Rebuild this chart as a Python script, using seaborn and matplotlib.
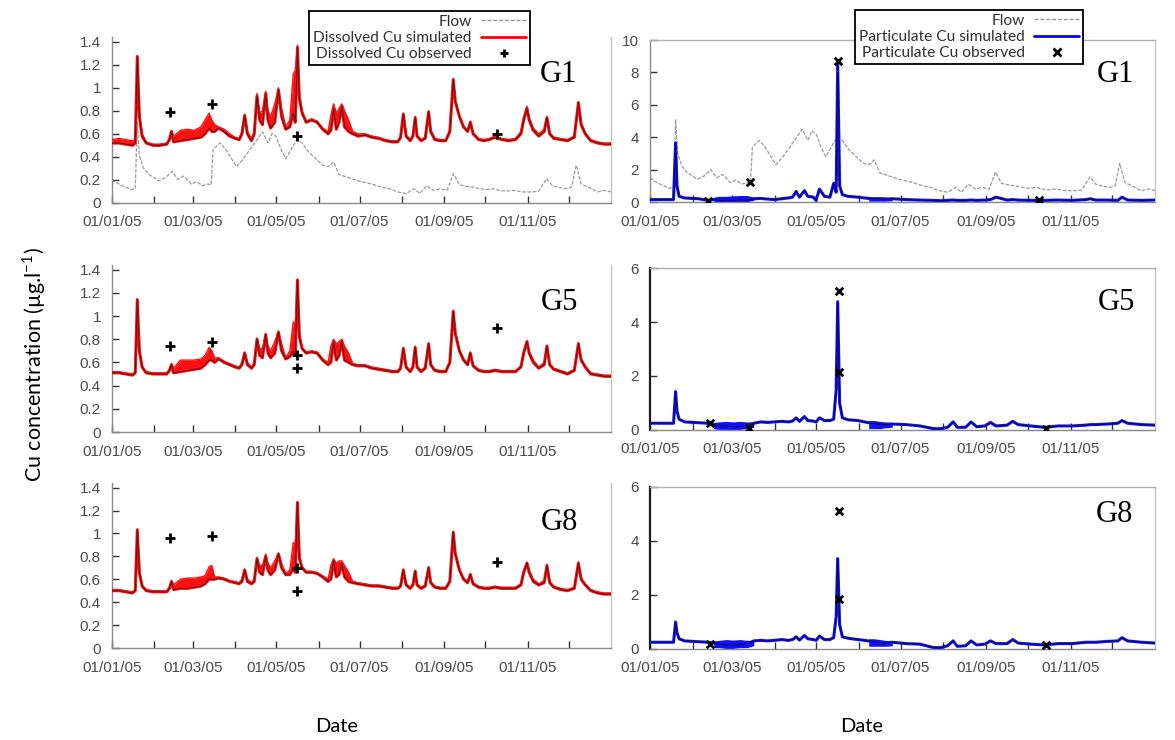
import numpy as np
import pandas as pd
import matplotlib
matplotlib.use("Agg")
import matplotlib.pyplot as plt
import matplotlib.dates as mdates
from matplotlib.ticker import FuncFormatter
from matplotlib.lines import Line2D
import seaborn as sns

sns.set_theme(style="white")
plt.rcParams["font.family"] = ["Liberation Sans", "DejaVu Sans"]

# ---------------- data (day of year 2005 -> value) ----------------
diss_days = [0, 5, 10, 15, 17, 18.5, 20, 22, 25, 30,
             35, 40, 42, 43.5, 45, 50, 55, 60, 65, 68,
             71, 73, 75, 78, 82, 86, 90, 93, 95, 97,
             99, 102, 104, 106, 108, 110, 112.4, 114, 116, 119,
             121.7, 124, 127, 130, 132.5, 134, 135.6, 137, 139, 142,
             146, 150, 154, 158, 160, 162, 164, 166, 168, 170,
             173, 176, 180, 185, 190, 195, 200, 205, 209, 211,
             213, 215, 218, 220, 221.7, 223, 226, 229, 231.5, 233,
             236, 240, 244, 247, 249.5, 251, 254, 257, 260, 262,
             264, 268, 272, 276, 280, 285, 290, 295, 299, 301,
             303.4, 305, 308, 312, 316, 318, 320, 323, 328, 333,
             338, 341, 343, 346, 350, 355, 360, 365]

g1_diss_sim = [0.52, 0.52, 0.51, 0.50, 0.52, 1.27, 0.75, 0.58, 0.52, 0.50,
               0.50, 0.51, 0.55, 0.62, 0.53, 0.54, 0.55, 0.56, 0.57, 0.60,
               0.65, 0.62, 0.62, 0.65, 0.62, 0.58, 0.56, 0.55, 0.60, 0.76,
               0.60, 0.54, 0.60, 0.93, 0.72, 0.68, 0.95, 0.72, 0.65, 0.70,
               0.98, 0.75, 0.64, 0.66, 0.78, 0.70, 1.35, 0.90, 0.78, 0.70,
               0.72, 0.70, 0.64, 0.60, 0.63, 0.82, 0.64, 0.70, 0.84, 0.66,
               0.62, 0.60, 0.58, 0.59, 0.57, 0.56, 0.54, 0.53, 0.53, 0.57,
               0.77, 0.58, 0.54, 0.58, 0.74, 0.58, 0.54, 0.56, 0.79, 0.62,
               0.55, 0.54, 0.54, 0.62, 1.07, 0.88, 0.75, 0.66, 0.62, 0.70,
               0.60, 0.55, 0.54, 0.55, 0.57, 0.55, 0.54, 0.55, 0.60, 0.72,
               0.82, 0.72, 0.63, 0.58, 0.62, 0.74, 0.60, 0.56, 0.55, 0.54,
               0.57, 0.87, 0.68, 0.60, 0.54, 0.52, 0.51, 0.51]
g1_diss_env = [0.55, 0.56, 0.55, 0.54, 0.55, 1.28, 0.78, 0.60, 0.53, 0.51,
               0.51, 0.52, 0.56, 0.63, 0.58, 0.63, 0.64, 0.63, 0.66, 0.72,
               0.78, 0.72, 0.68, 0.66, 0.64, 0.60, 0.57, 0.56, 0.62, 0.77,
               0.62, 0.56, 0.62, 0.95, 0.78, 0.80, 0.97, 0.80, 0.75, 0.86,
               1.00, 0.82, 0.66, 0.72, 1.12, 1.15, 1.37, 0.95, 0.80, 0.71,
               0.73, 0.71, 0.65, 0.62, 0.76, 0.86, 0.78, 0.82, 0.86, 0.80,
               0.72, 0.62, 0.60, 0.60, 0.58, 0.57, 0.55, 0.54, 0.54, 0.58,
               0.78, 0.59, 0.55, 0.59, 0.75, 0.59, 0.55, 0.57, 0.80, 0.63,
               0.56, 0.55, 0.55, 0.63, 1.08, 0.90, 0.76, 0.67, 0.63, 0.71,
               0.61, 0.56, 0.55, 0.56, 0.58, 0.56, 0.55, 0.56, 0.62, 0.75,
               0.84, 0.74, 0.65, 0.60, 0.64, 0.75, 0.61, 0.57, 0.56, 0.55,
               0.58, 0.88, 0.70, 0.61, 0.55, 0.53, 0.52, 0.52]

g5_diss_sim = [0.51, 0.51, 0.50, 0.49, 0.51, 1.14, 0.70, 0.56, 0.51, 0.50,
               0.50, 0.50, 0.53, 0.58, 0.51, 0.52, 0.53, 0.54, 0.55, 0.58,
               0.62, 0.62, 0.60, 0.63, 0.60, 0.58, 0.56, 0.55, 0.58, 0.68,
               0.58, 0.55, 0.58, 0.80, 0.66, 0.64, 0.84, 0.68, 0.64, 0.68,
               0.86, 0.70, 0.63, 0.65, 0.70, 0.66, 1.31, 0.82, 0.72, 0.68,
               0.69, 0.68, 0.62, 0.58, 0.60, 0.78, 0.62, 0.66, 0.78, 0.62,
               0.60, 0.58, 0.57, 0.57, 0.55, 0.54, 0.53, 0.52, 0.52, 0.55,
               0.72, 0.56, 0.52, 0.56, 0.73, 0.56, 0.52, 0.55, 0.76, 0.58,
               0.53, 0.52, 0.52, 0.60, 1.04, 0.85, 0.70, 0.62, 0.58, 0.68,
               0.57, 0.53, 0.52, 0.52, 0.53, 0.52, 0.52, 0.52, 0.56, 0.68,
               0.78, 0.68, 0.60, 0.55, 0.58, 0.74, 0.58, 0.54, 0.52, 0.50,
               0.53, 0.76, 0.62, 0.56, 0.50, 0.49, 0.48, 0.48]
g5_diss_env = [0.52, 0.52, 0.51, 0.50, 0.52, 1.15, 0.72, 0.57, 0.52, 0.51,
               0.51, 0.51, 0.54, 0.59, 0.55, 0.62, 0.62, 0.62, 0.63, 0.66,
               0.73, 0.70, 0.64, 0.64, 0.61, 0.59, 0.57, 0.56, 0.60, 0.69,
               0.60, 0.56, 0.60, 0.81, 0.72, 0.72, 0.85, 0.74, 0.70, 0.78,
               0.87, 0.76, 0.64, 0.70, 0.95, 0.92, 1.32, 0.86, 0.73, 0.69,
               0.70, 0.69, 0.63, 0.60, 0.74, 0.80, 0.76, 0.78, 0.80, 0.74,
               0.68, 0.59, 0.58, 0.58, 0.56, 0.55, 0.54, 0.53, 0.53, 0.56,
               0.73, 0.57, 0.53, 0.57, 0.74, 0.57, 0.53, 0.56, 0.77, 0.59,
               0.54, 0.53, 0.53, 0.61, 1.05, 0.86, 0.71, 0.63, 0.59, 0.69,
               0.58, 0.54, 0.53, 0.53, 0.54, 0.53, 0.53, 0.53, 0.57, 0.70,
               0.79, 0.70, 0.62, 0.56, 0.60, 0.75, 0.59, 0.55, 0.53, 0.51,
               0.54, 0.77, 0.63, 0.57, 0.51, 0.50, 0.49, 0.49]

g8_diss_sim = [0.50, 0.50, 0.49, 0.48, 0.50, 1.03, 0.66, 0.54, 0.50, 0.49,
               0.49, 0.49, 0.52, 0.58, 0.51, 0.52, 0.52, 0.53, 0.54, 0.56,
               0.60, 0.60, 0.60, 0.61, 0.60, 0.58, 0.57, 0.56, 0.58, 0.68,
               0.58, 0.56, 0.58, 0.78, 0.66, 0.64, 0.80, 0.68, 0.64, 0.68,
               0.82, 0.70, 0.64, 0.64, 0.70, 0.66, 1.27, 0.78, 0.70, 0.66,
               0.66, 0.65, 0.62, 0.58, 0.60, 0.76, 0.62, 0.64, 0.74, 0.62,
               0.58, 0.57, 0.56, 0.55, 0.54, 0.54, 0.53, 0.52, 0.52, 0.54,
               0.68, 0.55, 0.52, 0.55, 0.67, 0.55, 0.52, 0.54, 0.70, 0.57,
               0.53, 0.52, 0.52, 0.58, 1.01, 0.82, 0.68, 0.60, 0.57, 0.64,
               0.56, 0.53, 0.52, 0.52, 0.53, 0.52, 0.52, 0.52, 0.55, 0.66,
               0.74, 0.66, 0.58, 0.55, 0.57, 0.72, 0.57, 0.53, 0.51, 0.50,
               0.52, 0.74, 0.60, 0.55, 0.50, 0.48, 0.47, 0.47]
g8_diss_env = [0.51, 0.51, 0.50, 0.49, 0.51, 1.04, 0.68, 0.55, 0.51, 0.50,
               0.50, 0.50, 0.53, 0.59, 0.55, 0.60, 0.61, 0.61, 0.62, 0.63,
               0.71, 0.72, 0.62, 0.62, 0.61, 0.59, 0.58, 0.57, 0.60, 0.69,
               0.60, 0.57, 0.60, 0.79, 0.72, 0.72, 0.82, 0.74, 0.70, 0.76,
               0.83, 0.74, 0.65, 0.68, 0.92, 0.90, 1.28, 0.82, 0.71, 0.67,
               0.67, 0.66, 0.63, 0.60, 0.72, 0.78, 0.74, 0.76, 0.76, 0.72,
               0.66, 0.58, 0.57, 0.56, 0.55, 0.55, 0.54, 0.53, 0.53, 0.55,
               0.69, 0.56, 0.53, 0.56, 0.68, 0.56, 0.53, 0.55, 0.71, 0.58,
               0.54, 0.53, 0.53, 0.59, 1.02, 0.83, 0.69, 0.61, 0.58, 0.65,
               0.57, 0.54, 0.53, 0.53, 0.54, 0.53, 0.53, 0.53, 0.56, 0.68,
               0.75, 0.68, 0.60, 0.56, 0.59, 0.73, 0.58, 0.54, 0.52, 0.51,
               0.53, 0.75, 0.61, 0.56, 0.51, 0.49, 0.48, 0.48]

g1_diss_obs_days = [42.4, 73, 135.5, 281.6]
g1_diss_obs = [0.79, 0.86, 0.58, 0.60]
g5_diss_obs_days = [42.6, 72.8, 135.0, 135.5, 281.3]
g5_diss_obs = [0.74, 0.78, 0.665, 0.55, 0.90]
g8_diss_obs_days = [42.6, 72.8, 135.0, 135.5, 281.3]
g8_diss_obs = [0.96, 0.98, 0.70, 0.50, 0.75]

part_days = [0, 10, 17, 18.5, 19.5, 21, 25, 35, 42, 46,
             50, 55, 60, 65, 70, 75, 80, 85, 90, 95,
             100, 103, 105.6, 108, 111.6, 114, 118, 120, 122.4, 126,
             130, 132.7, 134.5, 135.6, 137, 139, 143, 150, 155, 160,
             165, 170, 175, 185, 195, 205, 210, 215, 219, 222,
             228, 232, 236, 242, 246, 250, 258, 262, 266, 275,
             285, 295, 305, 315, 318, 322, 330, 338, 341, 345,
             355, 365]
g1_part_sim = [0.15, 0.15, 0.15, 3.65, 1.0, 0.35, 0.25, 0.2, 0.1, 0.15,
               0.1, 0.12, 0.1, 0.12, 0.1, 0.2, 0.22, 0.18, 0.15, 0.2,
               0.25, 0.3, 0.65, 0.3, 0.7, 0.35, 0.3, 0.1, 0.8, 0.35,
               0.3, 1.15, 0.6, 8.6, 1.0, 0.45, 0.35, 0.3, 0.25, 0.2,
               0.2, 0.18, 0.2, 0.15, 0.12, 0.1, 0.08, 0.1, 0.12, 0.1,
               0.1, 0.12, 0.1, 0.12, 0.15, 0.3, 0.12, 0.15, 0.12, 0.1,
               0.1, 0.12, 0.1, 0.15, 0.2, 0.12, 0.12, 0.1, 0.3, 0.12,
               0.1, 0.12]
g5_part_sim = [0.25, 0.25, 0.25, 1.42, 0.7, 0.4, 0.3, 0.27, 0.25, 0.2,
               0.15, 0.15, 0.12, 0.12, 0.15, 0.25, 0.3, 0.28, 0.3, 0.32,
               0.3, 0.33, 0.45, 0.32, 0.5, 0.35, 0.33, 0.3, 0.45, 0.35,
               0.35, 0.4, 1.5, 4.75, 1.0, 0.45, 0.38, 0.35, 0.3, 0.25,
               0.22, 0.2, 0.22, 0.2, 0.15, 0.05, 0.05, 0.1, 0.3, 0.1,
               0.1, 0.3, 0.12, 0.15, 0.28, 0.15, 0.18, 0.32, 0.2, 0.15,
               0.1, 0.15, 0.15, 0.18, 0.2, 0.2, 0.22, 0.25, 0.35, 0.25,
               0.2, 0.18]
g8_part_sim = [0.25, 0.25, 0.25, 1.0, 0.6, 0.38, 0.3, 0.27, 0.25, 0.22,
               0.18, 0.15, 0.15, 0.15, 0.18, 0.3, 0.32, 0.3, 0.32, 0.35,
               0.32, 0.35, 0.45, 0.33, 0.5, 0.38, 0.35, 0.32, 0.48, 0.35,
               0.35, 0.42, 1.2, 3.35, 0.9, 0.45, 0.4, 0.35, 0.32, 0.28,
               0.25, 0.22, 0.25, 0.2, 0.18, 0.05, 0.05, 0.12, 0.3, 0.1,
               0.12, 0.3, 0.15, 0.18, 0.3, 0.2, 0.2, 0.35, 0.22, 0.18,
               0.15, 0.2, 0.2, 0.25, 0.25, 0.25, 0.28, 0.3, 0.42, 0.3,
               0.25, 0.22]

# noisy periods of the particulate simulation (envelope low / high)
part_band_days = [46, 50, 55, 60, 65, 70, 75, 158, 162, 166, 170, 175]
g1_part_band_lo = [0.05, 0.0, 0.02, 0.0, 0.0, 0.02, 0.1, 0.05, 0.05, 0.05, 0.05, 0.08]
g1_part_band_hi = [0.3, 0.35, 0.35, 0.38, 0.4, 0.4, 0.3, 0.3, 0.3, 0.32, 0.3, 0.25]
g5_part_band_lo = [0.05, 0.02, 0.02, 0.0, 0.02, 0.05, 0.1, 0.05, 0.05, 0.05, 0.08, 0.1]
g5_part_band_hi = [0.28, 0.3, 0.32, 0.3, 0.32, 0.3, 0.3, 0.35, 0.35, 0.32, 0.3, 0.28]
g8_part_band_lo = [0.05, 0.05, 0.02, 0.02, 0.05, 0.05, 0.12, 0.1, 0.1, 0.1, 0.1, 0.12]
g8_part_band_hi = [0.3, 0.32, 0.35, 0.33, 0.35, 0.32, 0.32, 0.38, 0.38, 0.35, 0.32, 0.3]

g1_part_obs_days = [42, 72.5, 135.6, 281]
g1_part_obs = [0.05, 1.25, 8.7, 0.1]
g5_part_obs_days = [43, 71.5, 136.5, 136.5, 286]
g5_part_obs = [0.27, 0.08, 5.15, 2.15, 0.02]
g8_part_obs_days = [43, 136.5, 136.5, 286]
g8_part_obs = [0.2, 5.1, 1.85, 0.15]

flow_days = [0, 3, 6, 10, 14, 17, 18.5, 20, 23, 27,
             31, 34, 39, 44, 48, 52.5, 58, 62, 66, 70,
             72.5, 74, 79, 83, 86, 91, 96, 101, 106, 110,
             114, 117, 120, 124, 127, 131, 135, 139, 144, 149,
             154, 158, 162, 166, 173, 180, 185, 190, 197, 203,
             209, 215, 221, 225, 230, 235, 240, 245, 249.6, 254,
             259, 264, 269, 274, 279, 283, 288, 293, 300, 307,
             312, 317.8, 322, 326, 332, 336, 339.4, 343, 348, 355,
             360, 365]
flow_vals = [1.5, 1.3, 1.15, 1.0, 0.85, 0.9, 5.1, 3.0, 2.2, 1.8,
             1.6, 1.4, 1.6, 2.0, 1.5, 1.7, 1.2, 1.35, 1.1, 1.2,
             1.15, 3.4, 3.8, 3.4, 3.0, 2.3, 2.8, 3.4, 4.0, 4.5,
             3.8, 4.4, 4.2, 3.3, 2.8, 3.4, 4.0, 3.8, 3.2, 2.8,
             2.4, 2.3, 2.6, 1.8, 1.6, 1.4, 1.3, 1.2, 1.0, 0.9,
             0.7, 0.6, 0.9, 0.6, 1.1, 0.8, 0.9, 0.8, 1.85, 1.15,
             1.05, 1.0, 0.9, 0.85, 0.9, 0.8, 0.75, 0.8, 0.7, 0.7,
             0.75, 1.55, 1.1, 1.0, 0.9, 1.0, 2.4, 1.2, 1.0, 0.7,
             0.8, 0.7]

site_labels = ["G1", "G5", "G8"]
diss_legend = ["Flow", "Dissolved Cu simulated", "Dissolved Cu observed"]
part_legend = ["Flow", "Particulate Cu simulated", "Particulate Cu observed"]

# ---------------- helpers ----------------
YEAR0 = pd.Timestamp("2005-01-01")
W, H = 1175, 740
RED, DARKRED = "#ff1010", "#5a1212"
BLUE, DARKBLUE = "#1010ff", "#0c0c45"
FLOWC = "#9c9c9c"


def dates(days):
    return YEAR0 + pd.to_timedelta(np.asarray(days, dtype=float), unit="D")


def box(x0, x1, ybot, ytop):
    return [x0 / W, 1 - ybot / H, (x1 - x0) / W, (ybot - ytop) / H]


def style(ax, ymax, yticks, left_dark):
    ax.set_xlim(YEAR0, pd.Timestamp("2005-12-31 20:00"))
    ax.set_ylim(0, ymax)
    ax.set_yticks(yticks)
    ax.yaxis.set_major_formatter(FuncFormatter(lambda v, p: f"{v:g}"))
    ax.xaxis.set_major_locator(mdates.MonthLocator(bymonth=[1, 3, 5, 7, 9, 11]))
    ax.xaxis.set_minor_locator(mdates.MonthLocator())
    ax.xaxis.set_major_formatter(mdates.DateFormatter("%d/%m/%y"))
    ax.tick_params(axis="both", which="both", direction="in", length=5, width=1,
                   color="#333333", labelsize=11, labelcolor="#4a4a4a",
                   bottom=True, left=True)
    ax.tick_params(axis="x", which="both", pad=9)
    ax.tick_params(axis="y", pad=8)
    ax.set_xlabel("")
    ax.set_ylabel("")
    ax.set_facecolor("none")
    for s in ax.spines.values():
        s.set_visible(True)
        s.set_linewidth(1)
    ax.spines["bottom"].set_color("#888888")
    ax.spines["right"].set_color("#c4c4c4")
    if left_dark:
        ax.spines["left"].set_color("#1a1a1a")
        ax.spines["left"].set_linewidth(1.6)
        ax.spines["top"].set_color("#b0b0b0")
    else:
        ax.spines["left"].set_color("#8a8a8a")
        ax.spines["top"].set_visible(False)


def add_flow(fig, ax, top):
    tw = ax.twinx()
    sns.lineplot(x=dates(flow_days), y=flow_vals, ax=tw, color=FLOWC, lw=0.9,
                 linestyle=(0, (3, 1.2)), zorder=1)
    tw.set_ylim(0, top)
    tw.set_xlim(ax.get_xlim())
    tw.axis("off")
    ax.set_zorder(tw.get_zorder() + 1)
    ax.patch.set_visible(False)


fig = plt.figure(figsize=(W / 100, H / 100), dpi=100)
fig.patch.set_facecolor("white")

left_boxes = [box(112, 611, 203, 37), box(112, 611, 432, 265), box(112, 611, 648, 483)]
right_boxes = [box(650, 1155, 202, 40), box(650, 1155, 430, 268), box(650, 1155, 649, 487)]

diss_sets = [(g1_diss_sim, g1_diss_env, g1_diss_obs_days, g1_diss_obs),
             (g5_diss_sim, g5_diss_env, g5_diss_obs_days, g5_diss_obs),
             (g8_diss_sim, g8_diss_env, g8_diss_obs_days, g8_diss_obs)]
part_sets = [(g1_part_sim, g1_part_band_lo, g1_part_band_hi, g1_part_obs_days, g1_part_obs),
             (g5_part_sim, g5_part_band_lo, g5_part_band_hi, g5_part_obs_days, g5_part_obs),
             (g8_part_sim, g8_part_band_lo, g8_part_band_hi, g8_part_obs_days, g8_part_obs)]

dd = dates(diss_days)
pd_ = dates(part_days)
pb = dates(part_band_days)

for i in range(3):
    # ---------- dissolved (left) ----------
    ax = fig.add_axes(left_boxes[i])
    sim, env, od, ov = diss_sets[i]
    if i == 0:
        add_flow(fig, ax, 10.5)
    ax.fill_between(dd, sim, env, color=RED, lw=0, zorder=2)
    sns.lineplot(x=dd, y=env, ax=ax, color=RED, lw=1.0, zorder=3)
    sns.lineplot(x=dd, y=sim, ax=ax, color=RED, lw=2.2, zorder=3)
    sns.lineplot(x=dd, y=sim, ax=ax, color=DARKRED, lw=0.7, zorder=4)
    sns.scatterplot(x=dates(od), y=ov, ax=ax, marker="+", s=50, color="black",
                    linewidth=2.0, zorder=6)
    style(ax, 1.44, [0, 0.2, 0.4, 0.6, 0.8, 1.0, 1.2, 1.4], left_dark=False)

    # ---------- particulate (right) ----------
    ax = fig.add_axes(right_boxes[i])
    sim, blo, bhi, od, ov = part_sets[i]
    if i == 0:
        add_flow(fig, ax, 10.0)
    for seg in (slice(0, 7), slice(7, 12)):
        ax.fill_between(pb[seg], blo[seg], bhi[seg], color=BLUE, lw=0, zorder=2)
    sns.lineplot(x=pd_, y=sim, ax=ax, color=BLUE, lw=2.2, zorder=3)
    sns.lineplot(x=pd_, y=sim, ax=ax, color=DARKBLUE, lw=0.7, zorder=4)
    sns.scatterplot(x=dates(od), y=ov, ax=ax, marker="x", s=30, color="black",
                    linewidth=2.0, zorder=6)
    if i == 0:
        style(ax, 10, [0, 2, 4, 6, 8, 10], left_dark=False)
        ax.spines["top"].set_visible(True)
        ax.spines["top"].set_color("#b0b0b0")
    else:
        style(ax, 6, [0, 2, 4, 6], left_dark=True)

# ---------------- site labels ----------------
g_pos_left = [(558, 75), (559, 302), (559, 522)]
g_pos_right = [(1115, 75), (1116, 302), (1114, 514)]
for lab, (x, y) in zip(site_labels, g_pos_left):
    fig.text(x / W, 1 - y / H, lab, family="Liberation Serif", size=22,
             ha="center", va="center", color="black")
for lab, (x, y) in zip(site_labels, g_pos_right):
    fig.text(x / W, 1 - y / H, lab, family="Liberation Serif", size=22,
             ha="center", va="center", color="black")

# ---------------- legends ----------------
def make_legend(labels, line_color, marker, anchor):
    handles = [Line2D([], [], color=FLOWC, lw=1.0, ls=(0, (3, 1.2))),
               Line2D([], [], color=line_color, lw=2.0),
               Line2D([], [], color="black", marker=marker, ls="none", ms=6, mew=2)]
    leg = fig.legend(handles, labels, loc="upper right", bbox_to_anchor=anchor,
                     bbox_transform=fig.transFigure, markerfirst=False,
                     frameon=True, fancybox=False, framealpha=1, edgecolor="black",
                     facecolor="white", prop={"family": "Lato", "size": 11.2},
                     handlelength=2.9, handletextpad=0.6, labelspacing=0.14,
                     borderpad=0.25, borderaxespad=0)
    leg.get_frame().set_linewidth(1.3)
    for t in leg.get_texts():
        t.set_color("#303030")
    return leg

make_legend(diss_legend, "#ff0000", "+", (530 / W, 1 - 11 / H))
make_legend(part_legend, "#0000ff", "x", (1083 / W, 1 - 10 / H))

# ---------------- axis titles ----------------
fig.text(34 / W, 1 - 365 / H, "Cu concentration (µg.l$^{\\mathregular{-1}}$)",
         rotation=90, ha="center", va="center", family="Lato", size=15.5, color="black")
fig.text(337 / W, 1 - 727 / H, "Date", ha="center", va="center", family="Lato",
         size=14.5, color="black")
fig.text(862 / W, 1 - 727 / H, "Date", ha="center", va="center", family="Lato",
         size=14.5, color="black")

fig.savefig("out.png", dpi=100, facecolor="white")
